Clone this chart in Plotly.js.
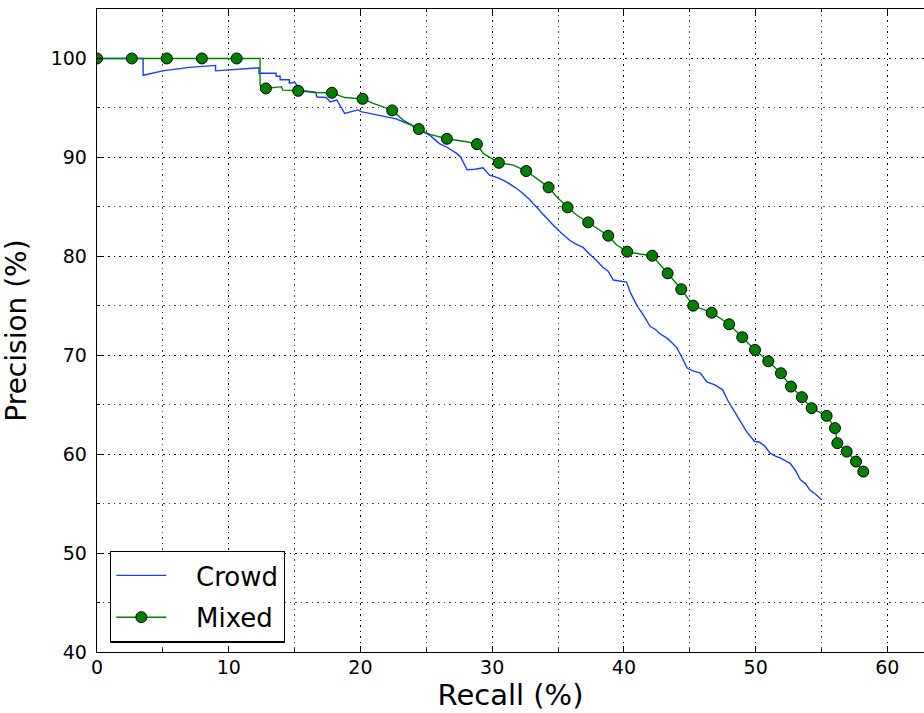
<!DOCTYPE html>
<html>
<head>
<meta charset="utf-8">
<script src="https://cdn.plot.ly/plotly-3.0.1.min.js"></script>
<style>
  html, body { margin: 0; padding: 0; background: #fff; }
  #chart { width: 924px; height: 713px; }
</style>
</head>
<body>
<div id="chart"></div>
<script>
// Precision–recall curve, crowd-only vs mixed training
const crowdRecall = [0, 3.5, 3.5, 5.0, 7.0, 9.0, 9.0, 12.3, 12.3, 13.6, 13.6, 13.9, 13.9, 14.6, 14.6, 15.0,
  15.3, 15.4, 16.6, 16.7, 17.4, 17.7, 18.2, 18.8, 19.8, 20.1, 20.5, 21.5, 22.7, 23.7, 24.5, 25.3, 26.0, 26.6,
  27.3, 27.6, 28.1, 28.7, 29.3, 29.8, 30.5, 31.1, 31.7, 32.2, 32.8, 33.4, 34.0, 34.6, 35.2, 35.9, 36.4, 36.9,
  37.4, 37.9, 38.4, 38.8, 39.2, 39.7, 40.2, 40.5, 41.0, 41.5, 42.0, 42.4, 42.7, 43.3, 44.0, 44.4, 44.8, 45.3,
  45.8, 46.3, 46.9, 47.5, 47.9, 48.3, 48.8, 49.3, 49.9, 50.3, 50.7, 51.1, 51.5, 51.9, 52.3, 52.6, 53.0, 53.4,
  53.8, 54.1, 54.6, 55.0];
const crowdPrecision = [100, 100, 98.3, 98.75, 99.1, 99.3, 98.75, 99.05, 98.5, 98.5, 98.2, 98.2, 97.85, 97.85, 97.5, 97.6,
  97.1, 96.8, 96.6, 96.1, 96.05, 95.6, 95.8, 94.45, 94.8, 94.6, 94.5, 94.25, 93.9, 93.35, 92.75, 92.2, 91.4, 91.0,
  90.4, 90.05, 88.75, 88.8, 88.95, 88.2, 87.9, 87.5, 87.0, 86.5, 85.8, 84.9, 84.1, 83.2, 82.4, 81.6, 81.2, 80.9,
  80.2, 79.6, 78.9, 78.5, 77.6, 77.5, 77.4, 76.3, 75.0, 74.0, 72.9, 72.6, 72.2, 71.7, 70.8, 69.8, 68.7, 68.4,
  68.2, 67.3, 67.0, 66.5, 65.4, 64.5, 63.4, 62.3, 61.3, 61.2, 60.8, 60.1, 59.8, 59.6, 59.3, 59.1, 58.4, 57.4,
  57.0, 56.4, 55.9, 55.4];

const mixedRecall = [0, 12.38, 12.38, 12.82, 14.0, 14.1, 15.27, 16.5, 17.83, 18.8, 20.16, 20.97, 21.72, 22.41,
  23.24, 24.43, 25.27, 25.9, 26.56, 28.06, 28.84, 29.32, 30.51, 31.6, 32.58, 33.37, 34.28, 34.89, 35.72, 36.41,
  37.29, 37.93, 38.81, 39.45, 40.25, 41.21, 42.15, 43.32, 44.35, 45.26, 46.66, 47.99, 48.98, 49.95, 50.96,
  51.92, 52.68, 53.51, 54.25, 55.39, 56.02, 56.2, 56.91, 57.62, 58.17];
const mixedPrecision = [100, 100, 97.3, 96.97, 97.15, 96.8, 96.73, 96.55, 96.53, 96.05, 95.92, 95.45, 95.1, 94.75,
  93.77, 92.86, 92.32, 92.08, 91.88, 91.58, 91.34, 90.4, 89.45, 89.22, 88.62, 87.88, 86.97, 86.02, 84.95, 84.17,
  83.43, 82.83, 82.08, 81.14, 80.47, 80.23, 80.06, 78.28, 76.67, 75.01, 74.3, 73.13, 71.82, 70.54, 69.39,
  68.18, 66.83, 65.76, 64.65, 63.87, 62.63, 61.11, 60.26, 59.25, 58.24];

// points of the mixed curve that carry a marker
const mixedMarkRecall = [0, 2.64, 5.3, 7.96, 10.6, 12.82, 15.27, 17.83, 20.16, 22.41, 24.43, 26.56, 28.84, 30.51,
  32.58, 34.28, 35.72, 37.29, 38.81, 40.25, 42.15, 43.32, 44.35, 45.26, 46.66, 47.99, 48.98, 49.95, 50.96,
  51.92, 52.68, 53.51, 54.25, 55.39, 56.02, 56.2, 56.91, 57.62, 58.17];
const mixedMarkPrecision = [100, 100, 100, 100, 100, 96.97, 96.73, 96.53, 95.92, 94.75, 92.86, 91.88, 91.34, 89.45,
  88.62, 86.97, 84.95, 83.43, 82.08, 80.47, 80.06, 78.28, 76.67, 75.01, 74.3, 73.13, 71.82, 70.54, 69.39,
  68.18, 66.83, 65.76, 64.65, 63.87, 62.63, 61.11, 60.26, 59.25, 58.24];

const xTicks = [0, 10, 20, 30, 40, 50, 60];
const yTicks = [40, 50, 60, 70, 80, 90, 100];

const FONT = 'DejaVu Sans, sans-serif';
const BLUE = '#1a3cff';
const GREEN = '#008000';
const PAD = '\u00a0\u00a0\u00a0'; // gap between legend sample and label

const traces = [
  {
    x: crowdRecall, y: crowdPrecision, type: 'scatter', mode: 'lines',
    name: PAD + 'Crowd', legendgroup: 'crowd',
    line: { color: BLUE, width: 1.4 }
  },
  {
    x: mixedRecall, y: mixedPrecision, type: 'scatter', mode: 'lines',
    name: 'Mixed', legendgroup: 'mixed', showlegend: false,
    line: { color: GREEN, width: 1.4 }
  },
  {
    x: mixedMarkRecall, y: mixedMarkPrecision, type: 'scatter', mode: 'markers',
    name: 'Mixed', legendgroup: 'mixed', showlegend: false,
    marker: { color: GREEN, size: 11, line: { color: '#000', width: 1 } }
  },
  {
    // legend entry: line with marker
    x: [null], y: [null], type: 'scatter', mode: 'lines+markers',
    name: PAD + 'Mixed', legendgroup: 'mixed',
    line: { color: GREEN, width: 1.4 },
    marker: { color: GREEN, size: 11, line: { color: '#000', width: 1 } }
  }
];

const axisCommon = {
  showline: true, linecolor: '#000', linewidth: 1.3,
  ticks: 'inside', ticklen: 6, tickwidth: 1, tickcolor: '#000',
  showgrid: true, gridcolor: '#000', gridwidth: 1, griddash: '1.5px,4px',
  zeroline: false,
  tickfont: { family: FONT, size: 19, color: '#000' },
  minor: {
    dtick: 5, ticks: 'inside', ticklen: 3, tickcolor: '#000',
    showgrid: true, gridcolor: '#444', gridwidth: 1, griddash: '1.5px,4px'
  }
};

const layout = {
  width: 924, height: 713,
  margin: { l: 97, r: 0, t: 9, b: 61 },
  paper_bgcolor: '#fff', plot_bgcolor: '#fff',
  font: { family: FONT, color: '#000' },
  showlegend: true,
  xaxis: Object.assign({}, axisCommon, {
    range: [0, 62.78], tickvals: xTicks, mirror: 'allticks',
    ticklabelstandoff: -2,
    title: { text: 'Recall (%)', font: { family: FONT, size: 29, color: '#000' }, standoff: 4 }
  }),
  yaxis: Object.assign({}, axisCommon, {
    range: [40, 105], tickvals: yTicks,
    ticklabelstandoff: 5,
    title: { text: 'Precision (%)', font: { family: FONT, size: 28, color: '#000' }, standoff: 16 }
  }),
  legend: {
    x: 0.0157, y: 0.0145, xanchor: 'left', yanchor: 'bottom',
    bgcolor: '#fff', bordercolor: '#000', borderwidth: 1.3,
    font: { family: FONT, size: 26, color: '#000' },
    itemwidth: 50,
    traceorder: 'grouped', tracegroupgap: 5
  }
};

Plotly.newPlot('chart', traces, layout, { displayModeBar: false, staticPlot: true });
</script>
</body>
</html>
